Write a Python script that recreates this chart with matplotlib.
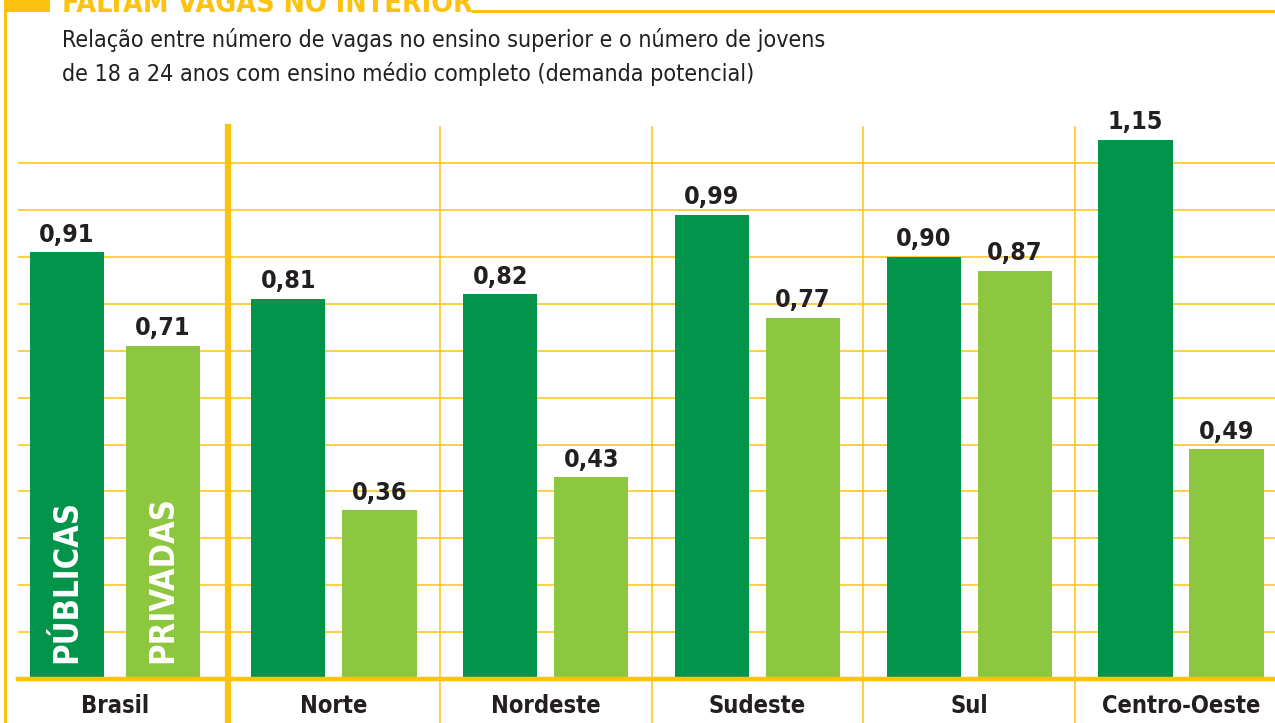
import matplotlib
matplotlib.use("Agg")
import matplotlib.pyplot as plt
import numpy as np

categories = ["Brasil", "Norte", "Nordeste", "Sudeste", "Sul", "Centro-Oeste"]
publicas = [0.91, 0.81, 0.82, 0.99, 0.90, 1.15]
privadas = [0.71, 0.36, 0.43, 0.77, 0.87, 0.49]
title = "FALTAM VAGAS NO INTERIOR"
subtitle = ["Relação entre número de vagas no ensino superior e o número de jovens",
            "de 18 a 24 anos com ensino médio completo (demanda potencial)"]

FONT = "DejaVu Sans"
ST = "condensed"

DARK = "#03944b"
LIGHT = "#8dc63f"
YEL = "#fdc20f"
TXT = "#231f20"

W, H = 1275, 723
fig = plt.figure(figsize=(W / 100, H / 100), dpi=100)

def px_x(p):
    return p / W

def px_y(p):
    return 1 - p / H

ax_left, ax_right, ax_top, ax_bot = 18, 1275, 127, 679
ax = fig.add_axes([px_x(ax_left), px_y(ax_bot), (ax_right - ax_left) / W, (ax_bot - ax_top) / H])

n = len(categories)
centers = np.arange(n, dtype=float)
centers[0] -= 0.035
off = np.full(n, 0.215)
off[0] = 0.227
bw = 0.35

ax.set_xlim(-0.492, 5.444)
ax.set_ylim(0, 1.177)

# gridlines
for g in np.arange(0.1, 1.15, 0.1):
    ax.axhline(g, color=YEL, lw=1.1, zorder=0)

b1 = ax.bar(centers - off, publicas, bw, color=DARK, zorder=2)
b2 = ax.bar(centers + off, privadas, bw, color=LIGHT, zorder=2)

for rects, vals in ((b1, publicas), (b2, privadas)):
    for r, v in zip(rects, vals):
        ax.text(r.get_x() + r.get_width() / 2, v + 0.012, f"{v:.2f}".replace(".", ","),
                ha="center", va="bottom", fontsize=18, fontweight="bold",
                color=TXT, family=FONT, fontstretch=ST, zorder=3)

# labels inside Brasil bars
ax.text(centers[0] - off[0], 0.035, "PÚBLICAS", rotation=90, ha="center", va="bottom",
        color="white", fontsize=23.5, fontweight="bold", family=FONT, fontstretch=ST, zorder=3)
ax.text(centers[0] + off[0], 0.035, "PRIVADAS", rotation=90, ha="center", va="bottom",
        color="white", fontsize=23.5, fontweight="bold", family=FONT, fontstretch=ST, zorder=3)

# separators
ymin = -(H - ax_bot) / (ax_bot - ax_top)
for i in range(n - 1):
    xs = i + 0.5
    ax.axvline(xs, ymin=ymin, ymax=1, color=YEL, lw=(4.5 if i == 0 else 1.1),
               clip_on=False, zorder=1)

# baseline
ax.axhline(0, color=YEL, lw=3.2, zorder=4, clip_on=False)

# category labels
for c, name in zip(centers, categories):
    ax.text(c, -0.032, name, ha="center", va="top", fontsize=17, fontweight="bold",
            color=TXT, family=FONT, fontstretch=ST, clip_on=False)

for s in ax.spines.values():
    s.set_visible(False)
ax.set_xticks([])
ax.set_yticks([])

# frame decorations
fig.add_artist(plt.Line2D([px_x(5), px_x(5)], [px_y(0), px_y(H)], color=YEL, lw=2.2))
fig.add_artist(plt.Rectangle((px_x(5), px_y(12)), px_x(45), 12 / H, color=YEL, lw=0))
fig.add_artist(plt.Line2D([px_x(473), px_x(W)], [px_y(11), px_y(11)], color=YEL, lw=2.2))

fig.text(px_x(62), px_y(12), title, ha="left", va="baseline", color=YEL,
         fontsize=20.5, fontweight="bold", family=FONT, fontstretch=ST)
fig.text(px_x(62), px_y(47), subtitle[0], ha="left", va="baseline", color=TXT,
         fontsize=16.7, family=FONT, fontstretch=ST)
fig.text(px_x(62), px_y(81), subtitle[1], ha="left", va="baseline", color=TXT,
         fontsize=16.7, family=FONT, fontstretch=ST)

fig.savefig("out.png", dpi=100)
